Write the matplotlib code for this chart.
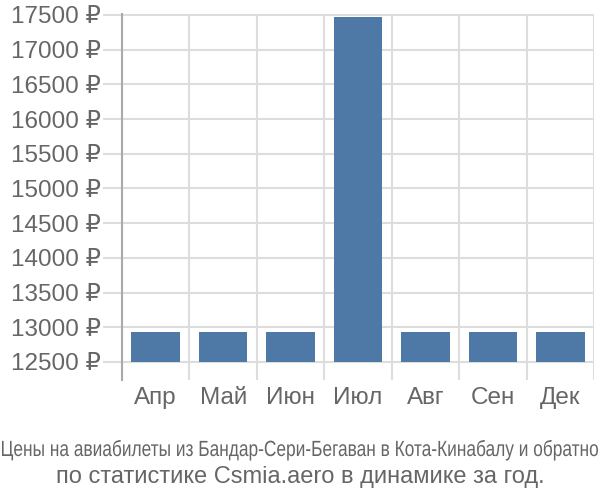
import numpy as np
import matplotlib.pyplot as plt
from matplotlib.textpath import TextPath
from matplotlib.patches import PathPatch
from matplotlib.font_manager import FontProperties
from matplotlib.transforms import Affine2D, IdentityTransform

months = ['Апр', 'Май', 'Июн', 'Июл', 'Авг', 'Сен', 'Дек']
prices = [12930, 12930, 12930, 17470, 12930, 12930, 12930]
base = 12500
yticks = [12500, 13000, 13500, 14000, 14500, 15000, 15500, 16000, 16500, 17000, 17500]
title1 = 'Цены на авиабилеты из Бандар-Сери-Бегаван в Кота-Кинабалу и обратно'
title2 = 'по статистике Csmia.aero в динамике за год.'

plt.rcParams['font.family'] = ['Liberation Sans', 'DejaVu Sans']

fig = plt.figure(figsize=(6, 5), dpi=100)
ax = fig.add_axes([122 / 600, 1 - 380 / 500, 472 / 600, 366 / 500])

x = np.arange(len(months))
heights = [p - base for p in prices]
ax.bar(x, heights, bottom=base, width=0.72, color='#4e78a6', zorder=3)

ax.set_xlim(-0.5, len(months) - 0.5)
ax.set_ylim(12240.6, 17514)

ax.set_yticks(yticks)
ax.set_yticklabels([f'{v} ₽' for v in yticks])
ax.set_xticks(x)
ax.set_xticklabels(months)
ax.set_xticks(np.arange(len(months) + 1) - 0.5, minor=True)

ax.grid(axis='y', which='major', color='#dddddd', linewidth=1.5, zorder=0)
ax.grid(axis='x', which='minor', color='#dddddd', linewidth=1.5, zorder=0)
ax.tick_params(axis='y', length=14, width=1.5, color='#dddddd', labelsize=17.5,
               labelcolor='#666666', pad=1)
ax.tick_params(axis='x', which='major', length=0, labelsize=17.5, labelcolor='#666666', pad=5)
ax.tick_params(axis='x', which='minor', length=0)

for side in ['top', 'right', 'bottom']:
    ax.spines[side].set_visible(False)
ax.spines['left'].set_color('#aaaaaa')
ax.spines['left'].set_linewidth(1.5)
ax.spines['left'].set_zorder(4)

# first caption line is condensed to span the full width
tp = TextPath((0, 0), title1, size=22, prop=FontProperties(family='Liberation Sans'))
ext = tp.get_extents()
sx = 596 / ext.width
tr = Affine2D().translate(-ext.x0, 0).scale(sx, 1).translate(2, 44)
fig.patches.append(PathPatch(tr.transform_path(tp), transform=IdentityTransform(),
                             facecolor='#666666', edgecolor='none', figure=fig))

fig.text(0.5, 1 - 477 / 500, title2, ha='center', va='center', fontsize=17, color='#666666')

fig.savefig('out.png', dpi=100)
